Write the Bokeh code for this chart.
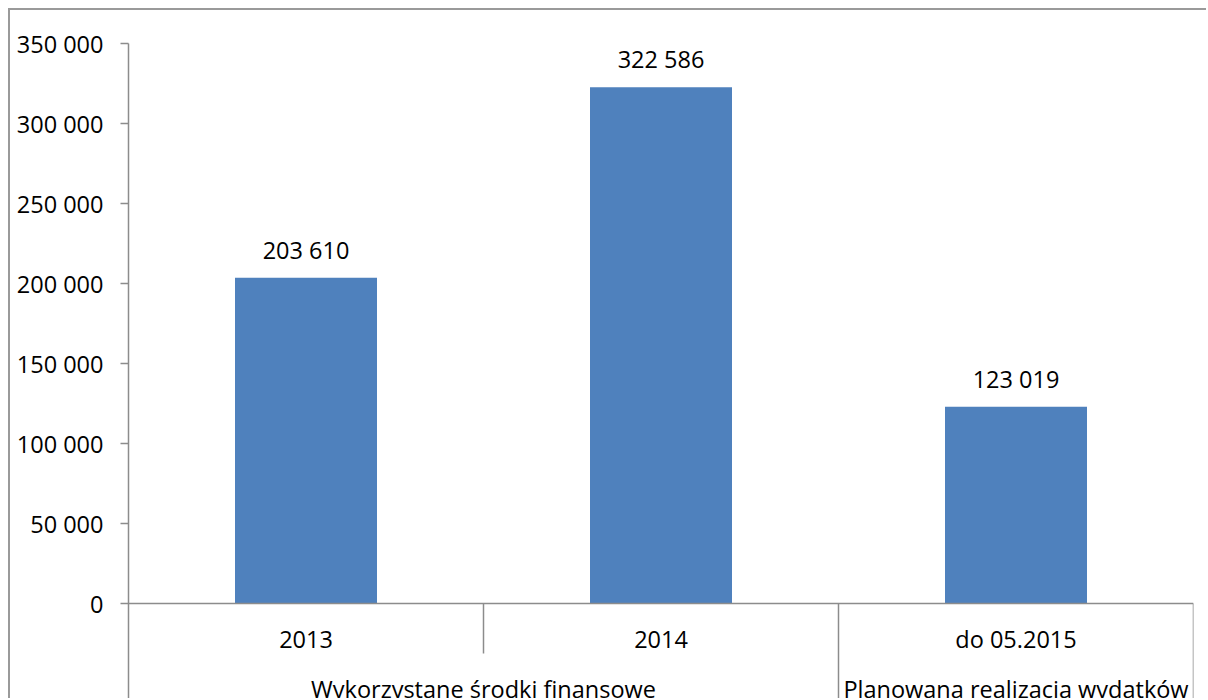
from bokeh.plotting import figure
from bokeh.models import FactorRange, Range1d, FixedTicker, ColumnDataSource
from bokeh.core.properties import value
from bokeh.embed import file_html
from bokeh.resources import INLINE

# ---- data ----
categories = ["2013", "2014", "do 05.2015"]
amounts = [203610, 322586, 123019]
groups = ["Wykorzystane środki finansowe", "Planowana realizacja wydatków"]
group_sizes = [2, 1]
y_ticks = [0, 50000, 100000, 150000, 200000, 250000, 300000, 350000]
y_tick_labels = ["0", "50 000", "100 000", "150 000", "200 000", "250 000", "300 000", "350 000"]

# ---- style ----
FONT = "Open Sans"
FS = "23.5px"
BAR = "#4F81BD"
LINE = "#8c8c8c"

Y_MAX = 350000
Y_BOTTOM = -60625          # extends the frame below zero for the category box
SHORT_SEP = -31250         # depth of separators inside a group
GROUP_LABEL_Y = -59375

p = figure(
    x_range=FactorRange(*categories, range_padding=0),
    y_range=Range1d(Y_BOTTOM, Y_MAX),
    width=1198, height=690,
    output_backend="svg", toolbar_location=None,
    min_border_left=118, min_border_right=15, min_border_top=33, min_border_bottom=0,
    styles={"margin-left": "8px", "margin-top": "8px",
            "border-left": "2px solid #9a9a9a", "border-top": "2px solid #9a9a9a"},
)
p.outline_line_color = None
p.xgrid.visible = False
p.ygrid.visible = False
p.background_fill_color = "white"
p.border_fill_color = "white"

src = ColumnDataSource(dict(
    cat=categories,
    val=amounts,
    label=[f"{v:,}".replace(",", " ") for v in amounts],
))
p.vbar(x="cat", top="val", bottom=0, width=0.4, source=src,
       fill_color=BAR, line_color=None)
p.text(x="cat", y="val", text="label", source=src,
       text_align="center", text_baseline="alphabetic", y_offset=-28,
       text_font=value(FONT), text_font_size=FS, text_color="black")

# y axis
ya = p.yaxis[0]
ya.ticker = FixedTicker(ticks=y_ticks, minor_ticks=[])
ya.major_label_overrides = {t: l for t, l in zip(y_ticks, y_tick_labels)}
ya.axis_line_color = LINE
ya.axis_line_width = 1.5
ya.major_tick_line_color = LINE
ya.major_tick_line_width = 1.5
ya.major_tick_out = 8
ya.major_tick_in = 0
ya.minor_tick_line_color = None
ya.major_label_standoff = 17
ya.major_label_text_font = FONT
ya.major_label_text_font_size = FS
ya.major_label_text_color = "black"

# x axis at zero
xa = p.xaxis[0]
xa.fixed_location = 0
xa.axis_line_color = LINE
xa.axis_line_width = 1.5
xa.major_tick_line_color = None
xa.minor_tick_line_color = None
xa.major_label_standoff = 13
xa.major_label_text_font = FONT
xa.major_label_text_font_size = FS
xa.major_label_text_color = "black"

# separators of the category table below the axis
sep_x, sep_y1 = [], []
idx = 0
for gs in group_sizes:
    for k in range(gs):
        idx += 1
        sep_x.append(idx)
        sep_y1.append(Y_BOTTOM if k == gs - 1 else SHORT_SEP)
p.segment(x0=sep_x, y0=[0] * len(sep_x), x1=sep_x, y1=sep_y1,
          line_color=LINE, line_width=1.5)

# group labels
centers, start = [], 0
for gs in group_sizes:
    centers.append(start + gs / 2)
    start += gs
p.text(x=centers, y=[GROUP_LABEL_Y] * len(groups), text=groups,
       text_align="center", text_baseline="alphabetic", y_offset=-10,
       text_font=value(FONT), text_font_size=FS, text_color="black")

open("out.html", "w").write(file_html(p, INLINE))
